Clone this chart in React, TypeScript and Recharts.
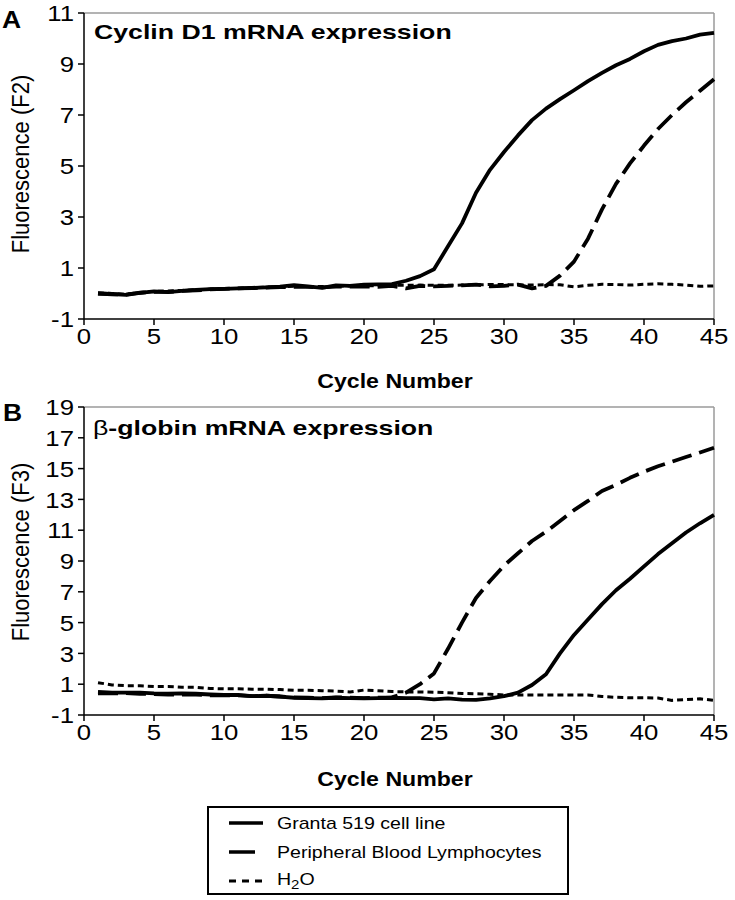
import React from 'react';
import { LineChart, Line, XAxis, YAxis, ReferenceLine } from 'recharts';

// ---------- data ----------
const cycles = [
  1, 2, 3, 4, 5, 6, 7, 8, 9, 10, 11, 12, 13, 14, 15, 16, 17, 18, 19, 20, 21, 22, 23,
  24, 25, 26, 27, 28, 29, 30, 31, 32, 33, 34, 35, 36, 37, 38, 39, 40, 41, 42, 43, 44, 45,
];

// Panel A: Cyclin D1 mRNA expression (F2)
const cyclinGranta = [
  0.0, -0.02, -0.05, 0.02, 0.08, 0.05, 0.1, 0.14, 0.17, 0.18, 0.2, 0.22, 0.24, 0.27, 0.33,
  0.28, 0.22, 0.32, 0.3, 0.35, 0.36, 0.37, 0.5, 0.68, 0.95, 1.85, 2.75, 3.95, 4.85, 5.55,
  6.2, 6.8, 7.25, 7.62, 7.97, 8.33, 8.65, 8.95, 9.2, 9.5, 9.75, 9.9, 10.0, 10.15, 10.22,
];
const cyclinPBL = [
  0.0, -0.03, -0.04, 0.03, 0.06, 0.06, 0.1, 0.12, 0.16, 0.18, 0.2, 0.21, 0.23, 0.25, 0.26,
  0.26, 0.24, 0.27, 0.27, 0.28, 0.26, 0.3, 0.2, 0.3, 0.28, 0.3, 0.32, 0.35, 0.28, 0.3,
  0.35, 0.2, 0.3, 0.7, 1.25, 2.15, 3.3, 4.3, 5.1, 5.8, 6.45, 7.0, 7.5, 7.95, 8.4,
];
const cyclinH2O = [
  0.02, 0.0, -0.03, 0.04, 0.08, 0.1, 0.12, 0.15, 0.17, 0.2, 0.2, 0.23, 0.25, 0.26, 0.28,
  0.27, 0.27, 0.28, 0.3, 0.3, 0.31, 0.32, 0.32, 0.33, 0.32, 0.32, 0.33, 0.34, 0.35, 0.35,
  0.34, 0.33, 0.35, 0.34, 0.26, 0.32, 0.36, 0.35, 0.33, 0.36, 0.38, 0.36, 0.33, 0.28, 0.3,
];

// Panel B: beta-globin mRNA expression (F3)
const globinGranta = [
  0.5, 0.45, 0.45, 0.45, 0.4, 0.38, 0.4, 0.38, 0.33, 0.3, 0.3, 0.22, 0.25, 0.2, 0.12,
  0.1, 0.08, 0.12, 0.1, 0.08, 0.1, 0.12, 0.1, 0.1, 0.02, 0.08, 0.0, -0.02, 0.08, 0.22,
  0.45, 0.95, 1.65, 3.0, 4.2, 5.2, 6.2, 7.1, 7.85, 8.65, 9.45, 10.15, 10.85, 11.45, 12.0,
];
const globinPBL = [
  0.4, 0.4, 0.42, 0.38, 0.35, 0.32, 0.33, 0.32, 0.28, 0.27, 0.27, 0.22, 0.25, 0.2, 0.15,
  0.12, 0.1, 0.15, 0.12, 0.1, 0.12, 0.15, 0.45, 1.0, 1.7, 3.3, 5.0, 6.6, 7.7, 8.7,
  9.5, 10.3, 10.9, 11.6, 12.3, 12.9, 13.55, 13.95, 14.4, 14.8, 15.15, 15.45, 15.75, 16.05, 16.35,
];
const globinH2O = [
  1.1, 0.95, 0.9, 0.9, 0.85, 0.85, 0.8, 0.8, 0.72, 0.7, 0.7, 0.68, 0.68, 0.65, 0.6,
  0.6, 0.58, 0.55, 0.5, 0.62, 0.58, 0.52, 0.5, 0.5, 0.48, 0.45, 0.4, 0.38, 0.35, 0.3,
  0.3, 0.3, 0.3, 0.3, 0.3, 0.3, 0.2, 0.15, 0.12, 0.12, 0.1, -0.05, 0.0, 0.05, -0.05,
];

const xTicks = [0, 5, 10, 15, 20, 25, 30, 35, 40, 45];
const yTicksA = [-1, 1, 3, 5, 7, 9, 11];
const yTicksB = [-1, 1, 3, 5, 7, 9, 11, 13, 15, 17, 19];

const legendItems = ['Granta 519 cell line', 'Peripheral Blood Lymphocytes', 'H2O'];

const dataA = cycles.map((c, i) => ({ cycle: c, granta: cyclinGranta[i], pbl: cyclinPBL[i], h2o: cyclinH2O[i] }));
const dataB = cycles.map((c, i) => ({ cycle: c, granta: globinGranta[i], pbl: globinPBL[i], h2o: globinH2O[i] }));

// ---------- styling ----------
const FONT = '"Liberation Sans", Arial, Helvetica, sans-serif';
const DASH_PBL = '20 8';
const DASH_H2O = '6 4';
const TICK_SIZE = 23;
const TICK_SX = 1.12;

const XTick = (props: any) => {
  const { x, y, payload } = props;
  return (
    <text
      x={0}
      y={0}
      transform={`translate(${x},${y}) scale(${TICK_SX},1)`}
      textAnchor="middle"
      dy="0.71em"
      fontSize={TICK_SIZE}
      fontFamily={FONT}
      fill="#000"
    >
      {payload.value}
    </text>
  );
};

const YTick = (props: any) => {
  const { x, y, payload } = props;
  return (
    <text
      x={0}
      y={0}
      transform={`translate(${x},${y}) scale(${TICK_SX},1)`}
      textAnchor="end"
      dy="0.355em"
      fontSize={TICK_SIZE}
      fontFamily={FONT}
      fill="#000"
    >
      {payload.value}
    </text>
  );
};

const Txt = ({
  x,
  y,
  children,
  size = 21,
  bold = false,
  sx = 1.2,
  left = false,
  rotate = false,
}: any) => {
  let transform: string;
  let origin = 'center center';
  if (rotate) transform = `translate(-50%,-50%) scaleX(${sx}) rotate(-90deg)`;
  else if (left) {
    transform = `translate(0,-50%) scaleX(${sx})`;
    origin = 'left center';
  } else transform = `translate(-50%,-50%) scaleX(${sx})`;
  return (
    <div
      style={{
        position: 'absolute',
        left: x,
        top: y,
        fontSize: size,
        fontWeight: bold ? 700 : 400,
        fontFamily: FONT,
        lineHeight: 1,
        whiteSpace: 'nowrap',
        transform,
        transformOrigin: origin,
        color: '#000',
      }}
    >
      {children}
    </div>
  );
};

const Panel = ({ data, yTicks, yMax, plotH, top }: any) => (
  <div style={{ position: 'absolute', left: 0, top }}>
    <LineChart
      width={735}
      height={plotH + 14 + 42}
      data={data}
      margin={{ top: 14, right: 21, bottom: 0, left: 0 }}
    >
      <XAxis
        dataKey="cycle"
        type="number"
        domain={[0, 45]}
        ticks={xTicks}
        interval={0}
        height={42}
        tickSize={6}
        tickMargin={3}
        axisLine={{ stroke: '#000', strokeWidth: 1.5 }}
        tickLine={{ stroke: '#000', strokeWidth: 1.5 }}
        tick={<XTick />}
      />
      <YAxis
        type="number"
        domain={[-1, yMax]}
        ticks={yTicks}
        interval={0}
        width={84}
        tickSize={6}
        tickMargin={4}
        axisLine={{ stroke: '#000', strokeWidth: 1.5 }}
        tickLine={{ stroke: '#000', strokeWidth: 1.5 }}
        tick={<YTick />}
      />
      <ReferenceLine y={yMax} stroke="#9a9a9a" strokeWidth={1.5} />
      <ReferenceLine x={45} stroke="#9a9a9a" strokeWidth={1.5} />
      <Line
        dataKey="h2o"
        stroke="#000"
        strokeWidth={3}
        strokeDasharray={DASH_H2O}
        dot={false}
        activeDot={false}
        isAnimationActive={false}
      />
      <Line
        dataKey="pbl"
        stroke="#000"
        strokeWidth={3.8}
        strokeDasharray={DASH_PBL}
        dot={false}
        activeDot={false}
        isAnimationActive={false}
        strokeLinejoin="round"
      />
      <Line
        dataKey="granta"
        stroke="#000"
        strokeWidth={3.8}
        dot={false}
        activeDot={false}
        isAnimationActive={false}
        strokeLinejoin="round"
      />
    </LineChart>
  </div>
);

const LegendRow = ({ y, dash, width, label }: any) => (
  <>
    <svg style={{ position: 'absolute', left: 226, top: y - 4 }} width={40} height={8}>
      <line x1={3} x2={37} y1={4} y2={4} stroke="#000" strokeWidth={width} strokeDasharray={dash} />
    </svg>
    <Txt x={277} y={y} size={17} sx={1.15} left>
      {label}
    </Txt>
  </>
);

export default function App() {
  return (
    <div
      style={{
        position: 'absolute',
        left: 0,
        top: 0,
        width: 735,
        height: 900,
        background: '#fff',
        overflow: 'hidden',
      }}
    >
      <Panel data={dataA} yTicks={yTicksA} yMax={11} plotH={306} top={-1} />
      <Panel data={dataB} yTicks={yTicksB} yMax={19} plotH={308} top={393} />

      <Txt x={2} y={20} size={23} bold left sx={1.15}>A</Txt>
      <Txt x={94} y={31} bold left sx={1.27}>Cyclin D1 mRNA expression</Txt>
      <Txt x={21} y={164} size={22} rotate sx={1.1}>Fluorescence (F2)</Txt>
      <Txt x={395} y={380} bold sx={1.1}>Cycle Number</Txt>

      <Txt x={3} y={413} size={23} bold left sx={1.15}>B</Txt>
      <Txt x={93} y={427} bold left sx={1.27}>
        <span style={{ fontWeight: 400 }}>β</span>-globin mRNA expression
      </Txt>
      <Txt x={21} y={552} size={22} rotate sx={1.1}>Fluorescence (F3)</Txt>
      <Txt x={395} y={778} bold sx={1.1}>Cycle Number</Txt>

      <div
        style={{
          position: 'absolute',
          left: 207,
          top: 806,
          width: 362,
          height: 89,
          border: '2px solid #000',
          boxSizing: 'border-box',
        }}
      />
      <LegendRow y={823} dash="" width={3.5} label={legendItems[0]} />
      <LegendRow y={852} dash="26 12" width={3.5} label={legendItems[1]} />
      <LegendRow y={881} dash="7 6" width={3} label={<span>H<sub style={{ fontSize: 13, verticalAlign: -4 }}>2</sub>O</span>} />
    </div>
  );
}
